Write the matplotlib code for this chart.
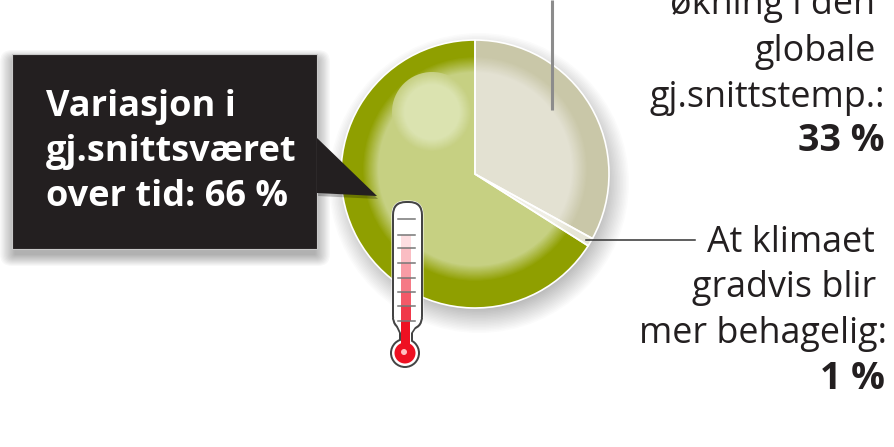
import numpy as np
import matplotlib
matplotlib.use('Agg')
import matplotlib.pyplot as plt
from matplotlib.patches import Circle, Rectangle, Polygon, FancyBboxPatch
from matplotlib.colors import to_rgb

# andeler, medurs fra toppen
shares = [33, 1, 66]
rim_colors = ['#c9c7a8', '#e6e5d6', '#8f9f00']
inner_colors = ['#e3e1d2', '#efeee4', '#c6d082']

box_lines = ['Variasjon i', 'gj.snittsværet', 'over tid: 66 %']
top_lines = ['økning i den', 'globale', 'gj.snittstemp.:']
top_value = '33 %'
low_lines = ['At klimaet', 'gradvis blir', 'mer behagelig:']
low_value = '1 %'

W, H = 895, 447
cx, cy, R = 475, H - 174, 134


def mix(a, b, t):
    a, b = np.array(to_rgb(a)), np.array(to_rgb(b))
    return tuple(a + (b - a) * t)


plt.rcParams['font.family'] = ['Open Sans', 'DejaVu Sans']
fig = plt.figure(figsize=(W / 100, H / 100), dpi=100)
ax = fig.add_axes([0, 0, 1, 1])

# skygge under sirkelen
for i in range(20):
    ax.add_patch(Circle((cx + 4, cy - 9), R + 16 - i * 1.5, fc='black', ec='none', alpha=0.016))

ax.pie(shares, colors=rim_colors, startangle=90, counterclock=False, center=(cx, cy), radius=R, frame=True)

# myk overgang til det lyse feltet
steps = 14
for i in range(steps):
    t = (i + 1) / steps
    r = 113 - 16 * t
    cols = [mix(a, b, t) for a, b in zip(rim_colors, inner_colors)]
    wedges, _ = ax.pie(shares, colors=cols, startangle=90, counterclock=False, center=(cx, cy), radius=R, frame=True)
    clip = Circle((cx, cy + 5), r, transform=ax.transData)
    for w in wedges:
        w.set_clip_on(True)
        w.set_clip_path(clip)

# lysflekk
for i in range(14):
    t = i / 13
    ax.add_patch(Circle((432, H - 112), 40 - 12 * t, fc=mix('#c6d082', '#dbe3b0', t), ec='none'))

# hvite kanter
ax.pie(shares, colors=['none'] * 3, startangle=90, counterclock=False, center=(cx, cy), radius=R, frame=True,
       wedgeprops={'edgecolor': 'white', 'linewidth': 1.2, 'facecolor': 'none'})

# strek til etikettene
ax.plot([552, 552], [H, H - 110], color='#8c8c8c', lw=2.2, solid_capstyle='butt', zorder=4)
ax.plot([586, 695], [H - 240, H - 240], color='#333333', lw=1.1, zorder=4)

# svart boks
for i in range(12):
    ax.add_patch(FancyBboxPatch((12 + i * 0.3, H - 254), 306 - i * 0.6, 192, boxstyle='round,pad=%.1f' % (12 - i),
                                fc='black', ec='none', alpha=0.028, zorder=5))
tail = [(317, H - 138), (377, H - 196), (317, H - 193)]
ax.add_patch(Polygon([(x + 1, y - 3) for x, y in tail], fc='black', ec='none', alpha=0.25, zorder=5))
ax.add_patch(Rectangle((12, H - 249), 305, 195, fc='#231f20', ec='#c8c8c8', lw=0.8, zorder=6))
ax.add_patch(Polygon(tail, fc='#231f20', ec='none', zorder=6))
for line, py in zip(box_lines, [116, 161, 206]):
    ax.text(46, H - py, line, color='white', fontsize=26, fontweight='bold', ha='left', va='baseline', zorder=7)

# tekst til hoyre
for line, px, py in zip(top_lines, [875, 876, 885], [14, 61, 107]):
    ax.text(px, H - py, line, color='#231f20', fontsize=25.8, ha='right', va='baseline')
ax.text(885, H - 151, top_value, color='#231f20', fontsize=27, fontweight='bold', ha='right', va='baseline')
for line, px, py in zip(low_lines, [875, 876, 887], [252, 297, 343]):
    ax.text(px, H - py, line, color='#231f20', fontsize=25.8, ha='right', va='baseline')
ax.text(885, H - 389, low_value, color='#231f20', fontsize=27, fontweight='bold', ha='right', va='baseline')


# termometer: samme form tegnes to ganger, mork og saa hvit inni
def thermo_shape(inset, col, z):
    ax.add_patch(Circle((405, H - 353), 15 - inset, fc=col, ec='none', zorder=z))
    ax.add_patch(FancyBboxPatch((392 + inset, H - 330 + inset), 31 - 2 * inset, 129 - 2 * inset,
                                boxstyle='round,pad=0,rounding_size=%.1f' % (14 - inset),
                                fc=col, ec='none', zorder=z))
    ax.add_patch(Polygon([(392 + inset, H - 318), (399 + inset, H - 333), (399 + inset, H - 342),
                          (413 - inset, H - 342), (413 - inset, H - 333), (423 - inset, H - 318)],
                         fc=col, ec='none', zorder=z))


thermo_shape(-0.5, 'white', 8)
thermo_shape(0, '#444444', 8)
thermo_shape(2, 'white', 9)
ax.add_patch(Circle((405, H - 353), 10.5, fc='#ee1122', ec='none', zorder=10))
ax.add_patch(Circle((404, H - 352), 3, fc='#ffc0c0', ec='none', zorder=11))
ax.add_patch(Rectangle((401, H - 348), 9, 27, fc='#ee1122', ec='none', zorder=10))
ticks = [219, 235, 248, 263, 278, 292, 306, 321]
for i, (a, b) in enumerate(zip(ticks[:-1], ticks[1:])):
    ax.add_patch(Rectangle((401, H - b), 10, b - a, fc=mix('#ffffff', '#f0384a', i / 6), ec='none', zorder=9))
for py in ticks:
    ax.plot([398, 415], [H - py, H - py], color='#777777', lw=1.1, zorder=10)

ax.set_xlim(0, W)
ax.set_ylim(0, H)
ax.axis('off')
fig.savefig('out.png', dpi=100)
